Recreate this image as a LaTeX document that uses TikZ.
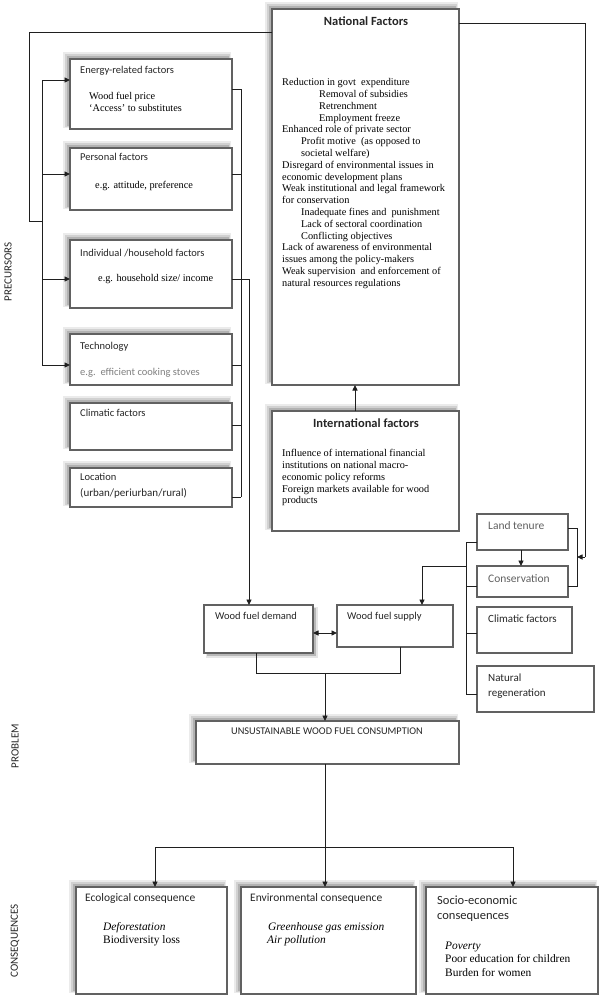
\documentclass[tikz,border=0pt]{standalone}
\usepackage{fontspec}
\setmainfont{Liberation Serif}
\newfontfamily\calfont{Carlito}
\usetikzlibrary{arrows.meta}
\newcommand\shul[4]{%
  \fill[black!8] (#1-7,#2-7) rectangle (#3-1,#4-1);
  \fill[black!18] (#1-5,#2-5) rectangle (#3-2,#4-2);
  \fill[black!30] (#1-3,#2-3) rectangle (#3-3,#4-3);}
\newcommand\shbr[4]{%
  \fill[black!10] (#1+2,#2+2) rectangle (#3+5,#4+5);
  \fill[black!28] (#1+3,#2+3) rectangle (#3+3,#4+3);}
\newcommand\mkbox[5]{\node[bx, minimum width=#4pt-#2pt, minimum height=#5pt-#3pt] (#1) at (#2,#3) {};}
\begin{document}
\begin{tikzpicture}[x=1pt,y=-1pt,
  bx/.style={draw=black!62, line width=1.1pt, fill=white, inner sep=0pt, outer sep=0pt, anchor=north west},
  ln/.style={draw=black!88, line width=0.9pt},
  ar/.style={ln, -{Triangle[length=5.5pt,width=5pt]}},
  tt/.style={font=\calfont\fontsize{10.5}{12}\selectfont, text=black!85, inner sep=0pt, anchor=mid west},
  ttc/.style={tt, anchor=mid},
  gt/.style={tt, text=black!62},
  sr/.style={font=\fontsize{10.3}{11.8}\selectfont, inner sep=0pt, anchor=mid west},
  srb/.style={font=\fontsize{11.4}{13}\selectfont, inner sep=0pt, anchor=mid west},
  side/.style={font=\calfont\fontsize{11}{12}\selectfont, text=black!85, inner sep=0pt, rotate=90}
]
\useasboundingbox (0,0) rectangle (600,999);
\fill[white] (0,0) rectangle (600,999);

% ---------- shadows ----------
\shul{70}{59}{232}{129}
\shul{70}{148}{232}{210}
\shul{70}{240}{232}{308}
\shul{70}{334}{232}{385}
\shul{70}{403}{232}{450}
\shul{70}{468}{232}{507}
\shul{272}{9}{459}{385}
\shul{272}{411}{459}{531}
\shul{196}{721}{459}{764}
\shul{76}{887}{227}{994}
\shul{241}{887}{416}{994}
\shul{426}{887}{598}{994}
\shbr{204}{605}{313}{653}

% ---------- boxes ----------
\mkbox{en}{70}{59}{232}{129}
\mkbox{pe}{70}{148}{232}{210}
\mkbox{ho}{70}{240}{232}{308}
\mkbox{te}{70}{334}{232}{385}
\mkbox{cl}{70}{403}{232}{450}
\mkbox{lo}{70}{468}{232}{507}
\mkbox{na}{272}{9}{459}{385}
\mkbox{in}{272}{411}{459}{531}
\mkbox{lt}{477}{514}{568}{550}
\mkbox{co}{477}{566}{568}{597}
\mkbox{cr}{477}{607}{572}{653}
\mkbox{nr}{477}{666}{594}{712}
\mkbox{wd}{204}{605}{313}{653}
\mkbox{ws}{337}{605}{453}{647}
\mkbox{un}{196}{721}{459}{764}
\mkbox{ec}{76}{887}{227}{994}
\mkbox{ev}{241}{887}{416}{994}
\mkbox{so}{426}{887}{598}{994}

% ---------- side labels ----------
\node[side] (lpre) at (8,272) {PRECURSORS};
\node[side] (lprob) at (15,746) {PROBLEM};
\node[side] (lcons) at (15,941) {CONSEQUENCES};

% ---------- left boxes texts ----------
\node[tt] (t-en) at (80,71) {Energy-related factors};
\node[sr] (x-en) at (89,97) {Wood fuel price};
\node[sr] (x-en2) at (89,109) {‘Access’ to substitutes};
\node[tt] (t-pe) at (80,158) {Personal factors};
\node[sr] (x-pe) at (95,186) {e.g. attitude, preference};
\node[tt] (t-ho) at (80,254) {Individual /household factors};
\node[sr] (x-ho) at (98,279) {e.g. household size/ income};
\node[tt] (t-te) at (80,347) {Technology};
\node[tt, text=black!50] (x-te) at (80,373) {e.g.\ \ efficient cooking stoves};
\node[tt] (t-cl) at (80,414) {Climatic factors};
\node[tt] (t-lo) at (80,478) {Location};
\node[tt, font=\calfont\fontsize{11}{12}\selectfont] (x-lo) at (80,494) {(urban/periurban/rural)};

% ---------- national / international ----------
\node[ttc, font=\calfont\bfseries\fontsize{12.5}{14}\selectfont] (t-na) at (366,23) {National Factors};
\node[sr, anchor=north west, align=left] (x-na) at (282,78.3) {%
Reduction in govt\ \ expenditure\\
\hspace*{37pt}Removal of subsidies\\
\hspace*{37pt}Retrenchment\\
\hspace*{37pt}Employment freeze\\
Enhanced role of private sector\\
\hspace*{19pt}Profit motive\ \ (as opposed to\\
\hspace*{19pt}societal welfare)\\
Disregard of environmental issues in\\
economic development plans\\
Weak institutional and legal framework\\
for conservation\\
\hspace*{19pt}Inadequate fines and\ \ punishment\\
\hspace*{19pt}Lack of sectoral coordination\\
\hspace*{19pt}Conflicting objectives\\
Lack of awareness of environmental\\
issues among the policy-makers\\
Weak supervision\ \ and enforcement of\\
natural resources regulations};
\node[ttc, font=\calfont\bfseries\fontsize{12.5}{14}\selectfont] (t-in) at (366,425) {International factors};
\node[sr, anchor=north west, align=left] (x-in) at (282,449.3) {%
Influence of international financial\\
institutions on national macro-\\
economic policy reforms\\
Foreign markets available for wood\\
products};

% ---------- right boxes texts ----------
\node[gt, font=\calfont\fontsize{11.5}{13}\selectfont] (t-lt) at (488,527) {Land tenure};
\node[gt, font=\calfont\fontsize{11.5}{13}\selectfont] (t-co) at (488,580) {Conservation};
\node[tt, font=\calfont\fontsize{11}{13}\selectfont] (t-cr) at (488,620) {Climatic factors};
\node[tt, font=\calfont\fontsize{11}{13}\selectfont] (t-nr) at (488,679) {Natural};
\node[tt, font=\calfont\fontsize{11}{13}\selectfont] (t-nr2) at (488,694) {regeneration};

% ---------- wood fuel ----------
\node[tt] (t-wd) at (215,617) {Wood fuel demand};
\node[tt] (t-ws) at (347,617) {Wood fuel supply};
\node[ttc, font=\calfont\fontsize{10.3}{12}\selectfont] (t-un) at (327,732) {UNSUSTAINABLE WOOD FUEL CONSUMPTION};

% ---------- consequences ----------
\node[tt, font=\calfont\fontsize{11.5}{13}\selectfont] (t-ec) at (85,899) {Ecological consequence};
\node[srb] (x-ec1) at (103,928) {\itshape Deforestation};
\node[srb] (x-ec2) at (103,941) {Biodiversity loss};
\node[tt, font=\calfont\fontsize{11.5}{13}\selectfont] (t-ev) at (250,899) {Environmental consequence};
\node[srb] (x-ev1) at (268,928) {\itshape Greenhouse gas emission};
\node[srb] (x-ev2) at (267,941) {\itshape Air pollution};
\node[tt, font=\calfont\fontsize{12.5}{14}\selectfont] (t-so) at (437,902) {Socio-economic};
\node[tt, font=\calfont\fontsize{12.5}{14}\selectfont] (t-so2) at (437,917) {consequences};
\node[srb] (x-so1) at (445,947) {\itshape Poverty};
\node[srb] (x-so2) at (445,960) {Poor education for children};
\node[srb] (x-so3) at (445,974) {Burden for women};

% ---------- connectors ----------
% outer left loop from national factors
\coordinate (ol1) at (29,32);
\coordinate (ol2) at (29,221);
\coordinate (ol3) at (42,221);
\draw[ln] (ol1 -| na.west) -- (ol1) -- (ol2) -- (ol3);
% left feeding line
\coordinate (lf1) at (42,80);
\coordinate (lf2) at (42,174);
\coordinate (lf3) at (42,279);
\coordinate (lf4) at (42,365);
\draw[ln] (lf1) -- (lf4);
\draw[ar] (lf1) -- (lf1 -| en.west);
\draw[ar] (lf2) -- (lf2 -| pe.west);
\draw[ar] (lf3) -- (lf3 -| ho.west);
\draw[ar] (lf4) -- (lf4 -| te.west);
% right bracket of precursors
\coordinate (rb1) at (241,89);
\coordinate (rb2) at (241,174);
\coordinate (rb4) at (241,365);
\coordinate (rb5) at (241,425);
\coordinate (rb6) at (241,497);
\draw[ln] (rb1) -- (rb6);
\draw[ln] (rb1 -| en.east) -- (rb1);
\draw[ln] (rb2 -| pe.east) -- (rb2);
\draw[ln] (rb4 -| te.east) -- (rb4);
\draw[ln] (rb5 -| cl.east) -- (rb5);
\draw[ln] (rb6 -| lo.east) -- (rb6);
\coordinate (hA) at (249,279);
\draw[ln] (hA -| ho.east) -- (hA);
\draw[ar] (hA) -- (hA |- wd.north);
% right outer loop
\coordinate (or1) at (585,23);
\coordinate (or2) at (585,557);
\coordinate (br) at (577,557);
\draw[ln] (or1 -| na.east) -- (or1) -- (or2);
\draw[ar] (or2) -- (br);
\coordinate (b1) at (577,528);
\coordinate (b2) at (577,586);
\draw[ln] (b1 -| lt.east) -- (b1) -- (b2) -- (b2 -| co.east);
\coordinate (lc) at (521,540);
\draw[ar] (lc |- lt.south) -- (lc |- co.north);
% supply side bracket
\coordinate (k1) at (466,542);
\coordinate (k2) at (466,694);
\coordinate (kc) at (466,586);
\coordinate (kd) at (466,633);
\draw[ln] (k1 -| lt.west) -- (k1) -- (k2) -- (k2 -| nr.west);
\draw[ln] (kc) -- (kc -| co.west);
\draw[ln] (kd) -- (kd -| cr.west);
\coordinate (k3) at (466,566);
\coordinate (k4) at (422,566);
\draw[ln] (k3) -- (k4);
\draw[ar] (k4) -- (k4 |- ws.north);
% international -> national
\coordinate (ia) at (355,400);
\draw[ar] (ia |- in.north) -- (ia |- na.south);
% demand <-> supply
\coordinate (dd) at (325,633);
\draw[ln, {Triangle[length=5.5pt,width=5pt]}-{Triangle[length=5.5pt,width=5pt]}] (dd -| wd.east) -- (dd -| ws.west);
% merge to problem
\coordinate (m1) at (256,673);
\coordinate (m2) at (400,673);
\coordinate (m3) at (325,673);
\draw[ln] (m1 |- wd.south) -- (m1) -- (m2) -- (m2 |- ws.south);
\draw[ar] (m3) -- (m3 |- un.north);
% problem to consequences
\coordinate (s0) at (155,847);
\coordinate (s1) at (325,847);
\coordinate (s2) at (513,847);
\draw[ln] (s1 |- un.south) -- (s1);
\draw[ln] (s0) -- (s2);
\draw[ar] (s0) -- (s0 |- ec.north);
\draw[ar] (s1) -- (s1 |- ev.north);
\draw[ar] (s2) -- (s2 |- so.north);
\end{tikzpicture}
\end{document}
